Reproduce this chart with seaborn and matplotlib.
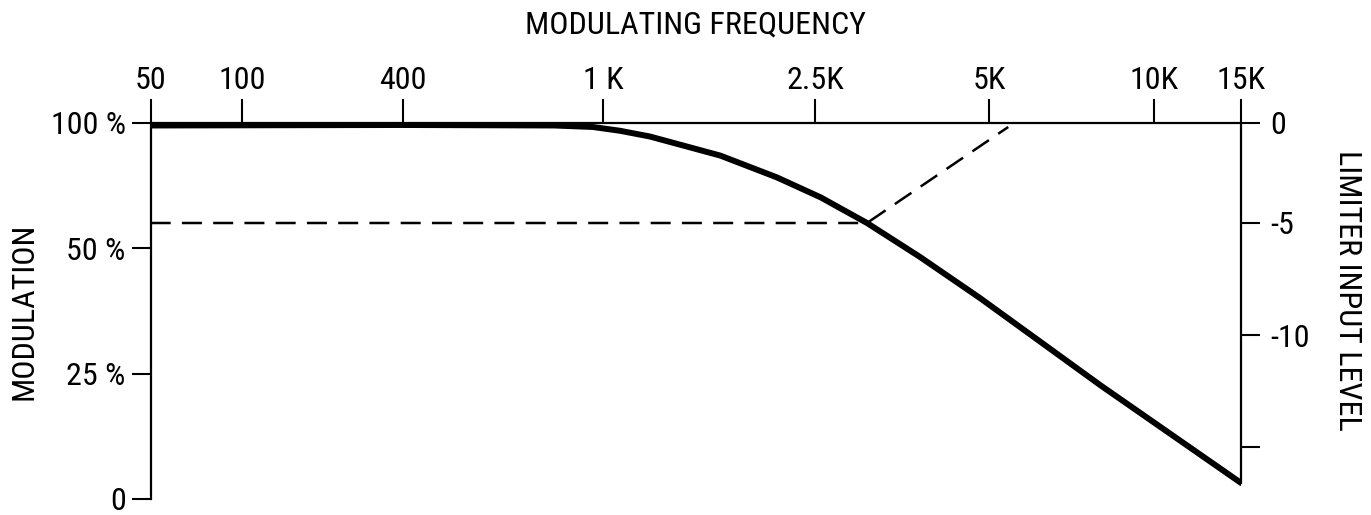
import numpy as np
import seaborn as sns
import matplotlib.pyplot as plt

# top axis: frequency ticks and where the chart puts them (fraction of axis width)
freq_ticks = [50, 100, 400, 1000, 2500, 5000, 10000, 15000]
freq_labels = ["50", "100", "400", "1 K", "2.5K", "5K", "10K", "15K"]
freq_pos = [0.0, 0.0837, 0.2314, 0.4148, 0.6093, 0.7689, 0.9202, 1.0]

# left axis: modulation ticks (equally spaced on the chart)
mod_ticks = [0, 25, 50, 100]
mod_labels = ["0", "25 %", "50 %", "100 %"]
mod_pos = [0, 1, 2, 3]

# right axis: limiter input level ticks, placed at modulation values
level_at_mod = [100, 60.1, 32.7, 10.4]
level_labels = ["0", "-5", "-10", ""]

# response curve
curve_freq = [50, 400, 800, 955, 1076, 1225, 1660, 2120, 2558, 3075, 3795, 4820, 7980, 15000]
curve_mod = [99, 99.2, 99, 98.4, 96.9, 94.6, 87.0, 78.3, 70.3, 60.1, 48.3, 40.1, 22.7, 3.2]

# dashed -5 level construction
dash_freq = [50, 3075, 5420]
dash_mod = [60.1, 60.1, 98.4]


def fx(f):
    return np.interp(np.log10(np.clip(f, 1e-9, None)), np.log10(freq_ticks), freq_pos)


def fx_inv(p):
    return 10 ** np.interp(p, freq_pos, np.log10(freq_ticks))


def fy(m):
    return np.interp(m, mod_ticks, mod_pos)


def fy_inv(p):
    return np.interp(p, mod_pos, mod_ticks)


sns.set_theme(style="white")
plt.rcParams["font.family"] = ["Roboto Condensed", "Roboto", "DejaVu Sans"]
plt.rcParams["text.color"] = "black"
plt.rcParams["axes.labelcolor"] = "black"

fs = 23

fig = plt.figure(figsize=(13.71, 5.15), dpi=100)
ax = fig.add_axes([0.1099, 0.0311, 0.7953, 0.7301])
ax.set_xscale("function", functions=(fx, fx_inv))
ax.set_yscale("function", functions=(fy, fy_inv))

sns.lineplot(x=dash_freq, y=dash_mod, ax=ax, color="black", linewidth=1.8,
             linestyle=(0, (8, 4.5)))
sns.lineplot(x=curve_freq, y=curve_mod, ax=ax, color="black", linewidth=4.3,
             solid_capstyle="round", solid_joinstyle="round")

ax.set_xlim(50, 15000)
ax.set_ylim(0, 100)

ax.xaxis.tick_top()
ax.set_xticks(freq_ticks)
ax.set_xticklabels(freq_labels)
ax.xaxis.set_minor_locator(plt.NullLocator())
ax.set_yticks(mod_ticks)
ax.set_yticklabels(mod_labels)
ax.yaxis.set_minor_locator(plt.NullLocator())
ax.tick_params(axis="x", top=True, bottom=False, direction="out", length=17,
               width=1.5, pad=3, labelsize=fs, colors="black")
ax.tick_params(axis="y", left=True, direction="out", length=14, width=1.5,
               pad=4, labelsize=fs, colors="black")

for side in ["bottom", "right"]:
    ax.spines[side].set_visible(False)
for side in ["top", "left"]:
    ax.spines[side].set_color("black")
    ax.spines[side].set_linewidth(1.6)

ax2 = ax.twinx()
ax2.set_yscale("function", functions=(fy, fy_inv))
ax2.set_ylim(0, 100)
ax2.set_yticks(level_at_mod)
ax2.set_yticklabels(level_labels)
ax2.yaxis.set_minor_locator(plt.NullLocator())
ax2.tick_params(axis="y", right=True, direction="out", length=14, width=1.5,
                pad=7, labelsize=fs, colors="black")
for side in ["top", "bottom", "left"]:
    ax2.spines[side].set_visible(False)
ax2.spines["right"].set_color("black")
ax2.spines["right"].set_linewidth(1.6)
ax2.spines["right"].set_bounds(curve_mod[-1], 100)
ax2.grid(False)
ax.grid(False)

ax.set_xlabel("MODULATING FREQUENCY", fontsize=fs, color="black")
ax.xaxis.set_label_position("top")
ax.xaxis.set_label_coords(0.5, 1.26)
ax.xaxis.label.set_va("center")

ax.set_ylabel("MODULATION", fontsize=fs, color="black")
ax.yaxis.set_label_coords(-0.116, 0.5)
ax.yaxis.label.set_va("center")

ax2.set_ylabel("LIMITER INPUT LEVEL", fontsize=fs, rotation=-90, color="black")
ax2.yaxis.set_label_coords(1.098, 0.556)
ax2.yaxis.label.set_va("center")

fig.savefig("out.png", dpi=100)
